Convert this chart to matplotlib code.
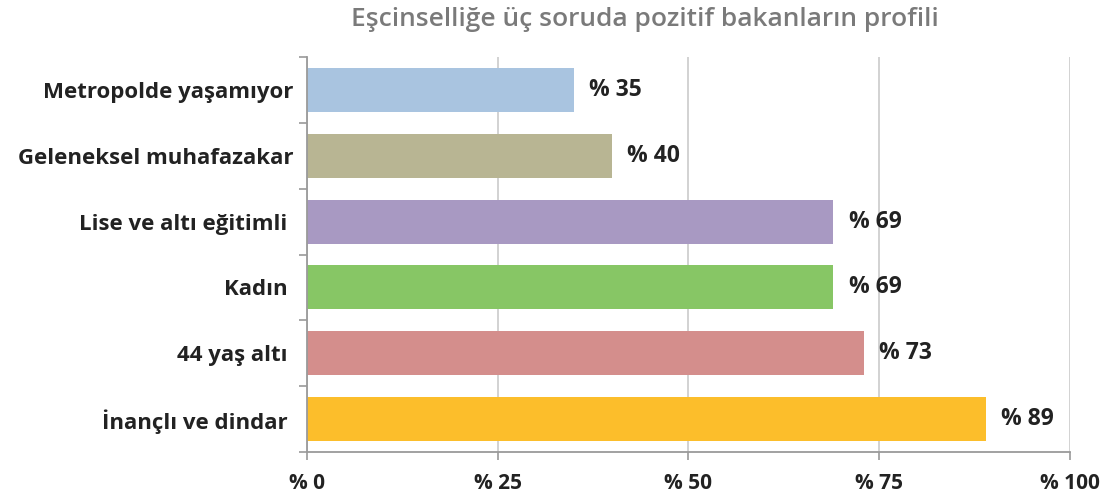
import matplotlib
matplotlib.use("Agg")
import matplotlib.pyplot as plt
from matplotlib.ticker import FixedLocator

plt.rcParams['font.family'] = ['Open Sans', 'DejaVu Sans']

title = "Eşcinselliğe üç soruda pozitif bakanların profili"
categories = ["Metropolde yaşamıyor", "Geleneksel muhafazakar", "Lise ve altı eğitimli ",
              "Kadın ", "44 yaş altı ", "İnançlı ve dindar "]
values = [35, 40, 69, 69, 73, 89]
colors = ["#A9C4E0", "#B8B593", "#A899C2", "#87C665", "#D48E8C", "#FCBE2B"]
xticks = [0, 25, 50, 75, 100]
xtick_labels = ["% 0", "% 25", "% 50", "% 75", "% 100"]

fig = plt.figure(figsize=(11.18, 5.0), dpi=100)
ax = fig.add_axes([0.2746, 0.096, 0.6824, 0.79])

n = len(categories)
ypos = list(range(n))
ax.barh(ypos, values, height=0.67, color=colors, zorder=2)
ax.set_ylim(n - 0.5, -0.5)
ax.set_xlim(0, 100)

ax.set_yticks(ypos)
ax.set_yticklabels(categories, fontsize=16, fontweight='bold', color='#222222')
ax.tick_params(axis='y', length=0, pad=10)
ax.yaxis.set_minor_locator(FixedLocator([i - 0.5 for i in range(n + 1)]))
ax.tick_params(axis='y', which='minor', length=6, width=1.2, color='#9a9a9a', direction='out')

ax.set_xticks(xticks)
ax.set_xticklabels(xtick_labels, fontsize=15, fontweight='bold', color='#222222')
ax.tick_params(axis='x', length=6, width=1.2, color='#9a9a9a', direction='out', pad=9)
ax.grid(axis='x', color='#cfcfcf', linewidth=1.3, zorder=0)
ax.set_axisbelow(True)

for side in ('top', 'right'):
    ax.spines[side].set_visible(False)
for side in ('left', 'bottom'):
    ax.spines[side].set_color('#9a9a9a')
    ax.spines[side].set_linewidth(1.3)

for y, v in zip(ypos, values):
    ax.text(v + 2, y, f"% {v}", va='center', ha='left', fontsize=16.5,
            fontweight='bold', color='#222222')

fig.text(0.577, 0.962, title, ha='center', va='center', fontsize=19,
         fontweight='semibold', color='#7a7a7a')

fig.savefig("out.png", dpi=100)
